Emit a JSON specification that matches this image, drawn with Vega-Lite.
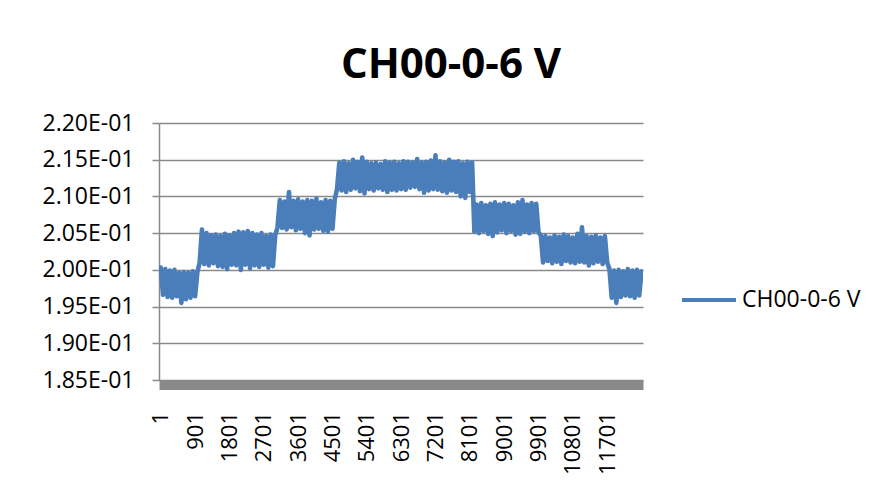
{
  "$schema": "https://vega.github.io/schema/vega-lite/v6.json",
  "autosize": "none",
  "width": 484,
  "height": 257,
  "padding": {"left": 159, "top": 123, "right": 234, "bottom": 118},
  "background": "white",
  "title": {
    "text": "CH00-0-6 V",
    "font": "Open Sans",
    "fontSize": 42,
    "fontWeight": "bold",
    "color": "#000000",
    "anchor": "middle",
    "frame": "group",
    "dx": 50,
    "baseline": "alphabetic",
    "offset": -8
  },
  "config": {
    "view": {"stroke": null},
    "font": "Open Sans"
  },
  "data": {
    "values": [
      {"i": 1, "v": 0.2003}, {"i": 61, "v": 0.1966}, {"i": 121, "v": 0.2001}, {"i": 181, "v": 0.1963},
      {"i": 241, "v": 0.1999}, {"i": 301, "v": 0.1962}, {"i": 361, "v": 0.2000}, {"i": 421, "v": 0.1964},
      {"i": 481, "v": 0.1996}, {"i": 541, "v": 0.1955}, {"i": 601, "v": 0.1997}, {"i": 661, "v": 0.1960},
      {"i": 721, "v": 0.1996}, {"i": 781, "v": 0.1962}, {"i": 841, "v": 0.1998}, {"i": 901, "v": 0.1964},
      {"i": 961, "v": 0.1997},
      {"i": 1021, "v": 0.2010}, {"i": 1081, "v": 0.2055}, {"i": 1141, "v": 0.2008}, {"i": 1201, "v": 0.2050},
      {"i": 1261, "v": 0.2006}, {"i": 1321, "v": 0.2047}, {"i": 1381, "v": 0.2009}, {"i": 1441, "v": 0.2048},
      {"i": 1501, "v": 0.2005}, {"i": 1561, "v": 0.2046}, {"i": 1621, "v": 0.2004}, {"i": 1681, "v": 0.2049},
      {"i": 1741, "v": 0.2001}, {"i": 1801, "v": 0.2047}, {"i": 1861, "v": 0.2007}, {"i": 1921, "v": 0.2050},
      {"i": 1981, "v": 0.2006}, {"i": 2041, "v": 0.2052}, {"i": 2101, "v": 0.2000}, {"i": 2161, "v": 0.2051},
      {"i": 2221, "v": 0.2007}, {"i": 2281, "v": 0.2053}, {"i": 2341, "v": 0.2002}, {"i": 2401, "v": 0.2050},
      {"i": 2461, "v": 0.2006}, {"i": 2521, "v": 0.2048}, {"i": 2581, "v": 0.2004}, {"i": 2641, "v": 0.2050},
      {"i": 2701, "v": 0.2007}, {"i": 2761, "v": 0.2046}, {"i": 2821, "v": 0.2003}, {"i": 2881, "v": 0.2048},
      {"i": 2941, "v": 0.2005}, {"i": 3001, "v": 0.2047},
      {"i": 3061, "v": 0.2058}, {"i": 3121, "v": 0.2095}, {"i": 3181, "v": 0.2057}, {"i": 3241, "v": 0.2093},
      {"i": 3301, "v": 0.2055}, {"i": 3361, "v": 0.2106}, {"i": 3421, "v": 0.2058}, {"i": 3481, "v": 0.2094},
      {"i": 3541, "v": 0.2054}, {"i": 3601, "v": 0.2096}, {"i": 3661, "v": 0.2056}, {"i": 3721, "v": 0.2093},
      {"i": 3781, "v": 0.2050}, {"i": 3841, "v": 0.2095}, {"i": 3901, "v": 0.2047}, {"i": 3961, "v": 0.2094},
      {"i": 4021, "v": 0.2055}, {"i": 4081, "v": 0.2097}, {"i": 4141, "v": 0.2056}, {"i": 4201, "v": 0.2092},
      {"i": 4261, "v": 0.2053}, {"i": 4321, "v": 0.2095}, {"i": 4381, "v": 0.2052}, {"i": 4441, "v": 0.2094},
      {"i": 4501, "v": 0.2056}, {"i": 4561, "v": 0.2096},
      {"i": 4621, "v": 0.2110}, {"i": 4681, "v": 0.2146}, {"i": 4741, "v": 0.2108}, {"i": 4801, "v": 0.2148},
      {"i": 4861, "v": 0.2106}, {"i": 4921, "v": 0.2145}, {"i": 4981, "v": 0.2109}, {"i": 5041, "v": 0.2150},
      {"i": 5101, "v": 0.2111}, {"i": 5161, "v": 0.2147}, {"i": 5221, "v": 0.2107}, {"i": 5281, "v": 0.2153},
      {"i": 5341, "v": 0.2104}, {"i": 5401, "v": 0.2147}, {"i": 5461, "v": 0.2110}, {"i": 5521, "v": 0.2145},
      {"i": 5581, "v": 0.2108}, {"i": 5641, "v": 0.2146}, {"i": 5701, "v": 0.2111}, {"i": 5761, "v": 0.2144},
      {"i": 5821, "v": 0.2109}, {"i": 5881, "v": 0.2148}, {"i": 5941, "v": 0.2106}, {"i": 6001, "v": 0.2146},
      {"i": 6061, "v": 0.2109}, {"i": 6121, "v": 0.2147}, {"i": 6181, "v": 0.2108}, {"i": 6241, "v": 0.2145},
      {"i": 6301, "v": 0.2110}, {"i": 6361, "v": 0.2148}, {"i": 6421, "v": 0.2109}, {"i": 6481, "v": 0.2147},
      {"i": 6541, "v": 0.2112}, {"i": 6601, "v": 0.2146}, {"i": 6661, "v": 0.2113}, {"i": 6721, "v": 0.2151},
      {"i": 6781, "v": 0.2110}, {"i": 6841, "v": 0.2146}, {"i": 6901, "v": 0.2105}, {"i": 6961, "v": 0.2147},
      {"i": 7021, "v": 0.2108}, {"i": 7081, "v": 0.2149}, {"i": 7141, "v": 0.2110}, {"i": 7201, "v": 0.2156},
      {"i": 7261, "v": 0.2109}, {"i": 7321, "v": 0.2148}, {"i": 7381, "v": 0.2107}, {"i": 7441, "v": 0.2146},
      {"i": 7501, "v": 0.2105}, {"i": 7561, "v": 0.2150}, {"i": 7621, "v": 0.2108}, {"i": 7681, "v": 0.2147},
      {"i": 7741, "v": 0.2106}, {"i": 7801, "v": 0.2148}, {"i": 7861, "v": 0.2100}, {"i": 7921, "v": 0.2145},
      {"i": 7981, "v": 0.2098}, {"i": 8041, "v": 0.2147}, {"i": 8101, "v": 0.2106}, {"i": 8161, "v": 0.2146},
      {"i": 8221, "v": 0.2052}, {"i": 8281, "v": 0.2089}, {"i": 8341, "v": 0.2050}, {"i": 8401, "v": 0.2091},
      {"i": 8461, "v": 0.2053}, {"i": 8521, "v": 0.2088}, {"i": 8581, "v": 0.2049}, {"i": 8641, "v": 0.2090},
      {"i": 8701, "v": 0.2046}, {"i": 8761, "v": 0.2092}, {"i": 8821, "v": 0.2051}, {"i": 8881, "v": 0.2089},
      {"i": 8941, "v": 0.2054}, {"i": 9001, "v": 0.2091}, {"i": 9061, "v": 0.2050}, {"i": 9121, "v": 0.2090},
      {"i": 9181, "v": 0.2053}, {"i": 9241, "v": 0.2088}, {"i": 9301, "v": 0.2048}, {"i": 9361, "v": 0.2092},
      {"i": 9421, "v": 0.2049}, {"i": 9481, "v": 0.2095}, {"i": 9541, "v": 0.2052}, {"i": 9601, "v": 0.2089},
      {"i": 9661, "v": 0.2050}, {"i": 9721, "v": 0.2091}, {"i": 9781, "v": 0.2053}, {"i": 9841, "v": 0.2090},
      {"i": 9901, "v": 0.2051},
      {"i": 9961, "v": 0.2047}, {"i": 10021, "v": 0.2010}, {"i": 10081, "v": 0.2046}, {"i": 10141, "v": 0.2012},
      {"i": 10201, "v": 0.2044}, {"i": 10261, "v": 0.2009}, {"i": 10321, "v": 0.2047}, {"i": 10381, "v": 0.2011},
      {"i": 10441, "v": 0.2045}, {"i": 10501, "v": 0.2008}, {"i": 10561, "v": 0.2048}, {"i": 10621, "v": 0.2012},
      {"i": 10681, "v": 0.2046}, {"i": 10741, "v": 0.2010}, {"i": 10801, "v": 0.2044}, {"i": 10861, "v": 0.2009},
      {"i": 10921, "v": 0.2049}, {"i": 10981, "v": 0.2011}, {"i": 11041, "v": 0.2058}, {"i": 11101, "v": 0.2010},
      {"i": 11161, "v": 0.2046}, {"i": 11221, "v": 0.2006}, {"i": 11281, "v": 0.2045}, {"i": 11341, "v": 0.2009},
      {"i": 11401, "v": 0.2047}, {"i": 11461, "v": 0.2011}, {"i": 11521, "v": 0.2044}, {"i": 11581, "v": 0.2008},
      {"i": 11641, "v": 0.2046}, {"i": 11701, "v": 0.2010},
      {"i": 11761, "v": 0.2001}, {"i": 11821, "v": 0.1962}, {"i": 11881, "v": 0.1999}, {"i": 11941, "v": 0.1955},
      {"i": 12001, "v": 0.2000}, {"i": 12061, "v": 0.1963}, {"i": 12121, "v": 0.1998}, {"i": 12181, "v": 0.1965},
      {"i": 12241, "v": 0.2001}, {"i": 12301, "v": 0.1964}, {"i": 12361, "v": 0.1999}, {"i": 12421, "v": 0.1962},
      {"i": 12481, "v": 0.2000}, {"i": 12541, "v": 0.1965}, {"i": 12601, "v": 0.1998}
    ]
  },
  "mark": {
    "type": "line",
    "strokeWidth": 4.6,
    "strokeJoin": "round",
    "strokeCap": "round",
    "clip": true
  },
  "encoding": {
    "x": {
      "field": "i",
      "type": "quantitative",
      "scale": {"domain": [-45, 12640], "nice": false, "zero": false},
      "axis": {
        "title": null,
        "values": [1, 901, 1801, 2701, 3601, 4501, 5401, 6301, 7201, 8101, 9001, 9901, 10801, 11701],
        "format": "d",
        "grid": false,
        "ticks": false,
        "tickSize": 0,
        "offset": 4.5,
        "domainColor": "#898989",
        "domainWidth": 10,
        "labelAngle": -90,
        "labelAlign": "right",
        "labelBaseline": "middle",
        "labelPadding": 27,
        "labelFont": "Open Sans",
        "labelFontSize": 22,
        "labelColor": "#000000",
        "labelOverlap": false,
        "labelBound": false,
        "labelFlush": false
      }
    },
    "y": {
      "field": "v",
      "type": "quantitative",
      "scale": {"domain": [0.185, 0.22], "nice": false, "zero": false},
      "axis": {
        "title": null,
        "values": [0.185, 0.19, 0.195, 0.2, 0.205, 0.21, 0.215, 0.22],
        "labelExpr": "replace(format(datum.value, '.2e'), 'e-1', 'E-01')",
        "grid": true,
        "gridColor": "#8a8a8a",
        "gridWidth": 1.5,
        "domainColor": "#8a8a8a",
        "domainWidth": 1.5,
        "tickColor": "#8a8a8a",
        "tickWidth": 1.5,
        "tickSize": 7,
        "labelPadding": 18,
        "labelFont": "Open Sans",
        "labelFontSize": 23,
        "labelColor": "#000000",
        "labelOverlap": false,
        "labelBound": false,
        "labelFlush": false
      }
    },
    "color": {
      "datum": "CH00-0-6 V",
      "type": "nominal",
      "scale": {"range": ["#4a7ebb"]},
      "legend": {
        "title": null,
        "orient": "none",
        "legendX": 521,
        "legendY": 148,
        "padding": 0,
        "symbolType": "stroke",
        "symbolSize": 2916,
        "symbolStrokeWidth": 4,
        "labelOffset": 4,
        "labelFont": "Open Sans",
        "labelFontSize": 23,
        "labelColor": "#000000"
      }
    }
  }
}
